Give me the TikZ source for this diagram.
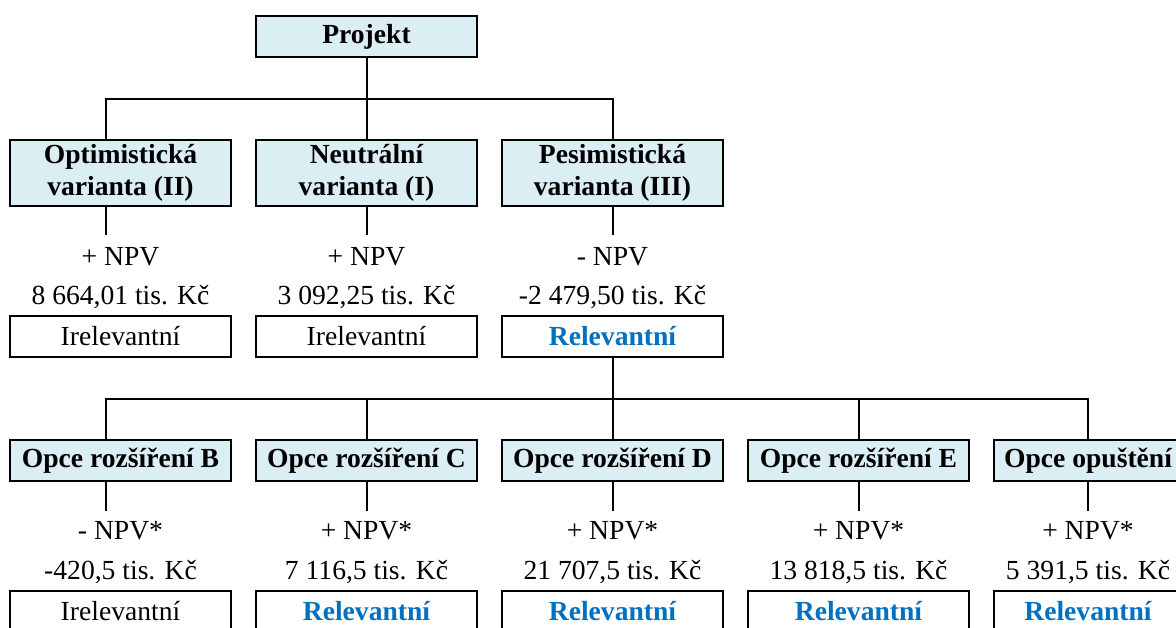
\documentclass[tikz,border=0pt]{standalone}
\usepackage{fontspec}
\setmainfont{Liberation Serif}
\usetikzlibrary{positioning}
\definecolor{boxblue}{RGB}{219,238,244}
\definecolor{relblue}{RGB}{0,112,192}

\begin{document}
\begin{tikzpicture}[x=1pt,y=-1pt,line width=2pt,node distance=25pt,
  font=\fontsize{27.6}{31.5}\selectfont,
  every node/.style={outer sep=0pt},
  head/.style={draw,fill=boxblue,align=center,minimum width=221pt,
    inner sep=0pt,font=\fontsize{27.6}{31.5}\selectfont\bfseries},
  variant/.style={head,minimum height=66pt},
  opce/.style={head,minimum height=41pt},
  npv/.style={inner sep=0pt,text height=19pt,text depth=6pt},
  result/.style={draw,minimum width=221pt,minimum height=41pt,inner sep=0pt},
  relevant/.style={result,text=relblue,font=\fontsize{27.6}{31.5}\selectfont\bfseries}]
  \useasboundingbox (0,0) rectangle (1176,627);
  \clip (0,0) rectangle (1176,627);

  % projekt a varianty
  \node[opce] (projekt) at (366.5,36.5) {Projekt};
  \node[variant] (neu) [below=83pt of projekt] {Neutrální\\varianta (I)};
  \node[variant] (opt) [left=of neu] {Optimistická\\varianta (II)};
  \node[variant] (pes) [right=of neu] {Pesimistická\\varianta (III)};

  \node[npv] (npvOpt) [below=40pt of opt] {+ NPV};
  \node[npv] (valOpt) [below=14pt of npvOpt] {8 664,01 tis. Kč};
  \node[result] (resOpt) [below=6pt of valOpt] {Irelevantní};
  \node[npv] (npvNeu) [below=40pt of neu] {+ NPV};
  \node[npv] (valNeu) [below=14pt of npvNeu] {3 092,25 tis. Kč};
  \node[result] (resNeu) [below=6pt of valNeu] {Irelevantní};
  \node[npv] (npvPes) [below=40pt of pes] {- NPV};
  \node[npv] (valPes) [below=14pt of npvPes] {-2 479,50 tis. Kč};
  \node[relevant] (resPes) [below=6pt of valPes] {Relevantní};

  % opce
  \node[opce] (opC) [below=83pt of resNeu] {Opce rozšíření C};
  \node[opce] (opB) [left=of opC] {Opce rozšíření B};
  \node[opce] (opD) [right=of opC] {Opce rozšíření D};
  \node[opce] (opE) [right=of opD] {Opce rozšíření E};
  \node[opce,minimum width=188pt] (opF) [right=of opE] {Opce opuštění};

  \node[npv] (npvB) [below=39pt of opB] {- NPV*};
  \node[npv] (valB) [below=15pt of npvB] {-420,5 tis. Kč};
  \node[result] (resB) [below=6pt of valB] {Irelevantní};
  \node[npv] (npvC) [below=39pt of opC] {+ NPV*};
  \node[npv] (valC) [below=15pt of npvC] {7 116,5 tis. Kč};
  \node[relevant] (resC) [below=6pt of valC] {Relevantní};
  \node[npv] (npvD) [below=39pt of opD] {+ NPV*};
  \node[npv] (valD) [below=15pt of npvD] {21 707,5 tis. Kč};
  \node[relevant] (resD) [below=6pt of valD] {Relevantní};
  \node[npv] (npvE) [below=39pt of opE] {+ NPV*};
  \node[npv] (valE) [below=15pt of npvE] {13 818,5 tis. Kč};
  \node[relevant] (resE) [below=6pt of valE] {Relevantní};
  \node[npv] (npvF) [below=39pt of opF] {+ NPV*};
  \node[npv] (valF) [below=15pt of npvF] {5 391,5 tis. Kč};
  \node[relevant,minimum width=188pt] (resF) [below=6pt of valF] {Relevantní};

  % spojnice
  \coordinate (j1) at (0,99);
  \coordinate (j2) at (0,399);
  \draw (projekt.south) -- (projekt.south |- j1);
  \draw ([xshift=-14.5pt]opt.north) |- (pes.north |- j1) -- (pes.north);
  \draw (neu.north) -- (neu.north |- j1);
  \draw ([xshift=-14.5pt]opt.south) -- ++(0,29);
  \draw (neu.south) -- ++(0,29);
  \draw (pes.south) -- ++(0,29);

  \draw (resPes.south) -- (resPes.south |- j2);
  \draw ([xshift=-14.5pt]opB.north) |- (opF.north |- j2) -- (opF.north);
  \draw (opC.north) -- (opC.north |- j2);
  \draw (opD.north) -- (opD.north |- j2);
  \draw (opE.north) -- (opE.north |- j2);
  \draw ([xshift=-14.5pt]opB.south) -- ++(0,30);
  \draw (opC.south) -- ++(0,30);
  \draw (opD.south) -- ++(0,30);
  \draw (opE.south) -- ++(0,30);
  \draw (opF.south) -- ++(0,30);
\end{tikzpicture}
\end{document}
